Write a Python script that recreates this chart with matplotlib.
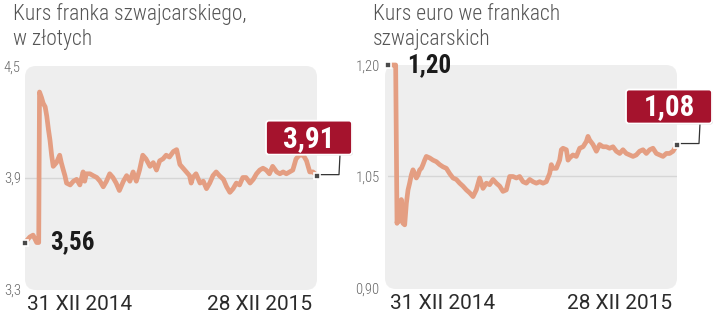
import matplotlib
matplotlib.use("Agg")
import matplotlib.pyplot as plt
from matplotlib.patches import FancyBboxPatch
from matplotlib import transforms as mtransforms

# --- dane: dni od 31 XII 2014 i kursy ---
dni_chf = [0, 6, 10, 14.5, 17, 18, 20.5, 22.5, 25, 27, 29, 31, 33, 35, 37, 39, 41, 43, 45, 47.5,
           49.5, 51.5, 56, 60, 64, 68, 72, 74, 76, 80.5, 84.5, 89, 93, 97, 101, 105, 109, 113,
           117, 122, 126, 130, 134, 138, 142, 146, 150, 155, 159, 163, 167, 171, 175, 179, 184,
           188, 192, 196, 200, 204, 206, 208, 212, 217, 221, 225, 229, 233, 237, 241, 246, 250,
           254, 258, 262, 266, 270, 274, 279, 283, 287, 291, 295, 299, 303, 307, 312, 316, 320,
           324, 328, 332, 336, 340, 345, 349, 353, 357, 362]
kurs_chf = [3.55, 3.58, 3.59, 3.55, 3.55, 4.36, 4.33, 4.30, 4.28, 4.23, 4.16, 4.10, 4.02, 3.96,
            3.97, 3.98, 4.00, 4.02, 3.98, 3.94, 3.91, 3.87, 3.86, 3.88, 3.89, 3.86, 3.93, 3.88,
            3.92, 3.92, 3.91, 3.90, 3.88, 3.85, 3.88, 3.92, 3.90, 3.87, 3.83, 3.88, 3.91, 3.88,
            3.93, 3.88, 3.94, 4.02, 4.00, 3.96, 3.98, 3.94, 3.99, 4.00, 4.02, 4.01, 4.04, 4.05,
            3.97, 3.95, 3.93, 3.91, 3.87, 3.90, 3.92, 3.87, 3.88, 3.84, 3.87, 3.91, 3.93, 3.91,
            3.89, 3.85, 3.82, 3.84, 3.87, 3.86, 3.90, 3.90, 3.87, 3.89, 3.92, 3.94, 3.95, 3.94,
            3.92, 3.96, 3.93, 3.92, 3.93, 3.92, 3.93, 3.94, 4.00, 4.02, 4.02, 3.99, 3.93, 3.93,
            3.91]

dni_eur = [0, 6.3, 9.6, 11.3, 12.5, 14.6, 16.7, 18.8, 20.9, 23.0, 25.1, 27.1, 29.2, 31.3, 33.4,
           35.5, 37.6, 39.7, 41.8, 43.8, 45.9, 48.0, 52.2, 56.4, 60.5, 64.7, 68.9, 73.1, 77.2,
           81.4, 85.6, 89.8, 93.9, 98.1, 102.3, 106.5, 110.6, 114.8, 119.0, 123.2, 127.3, 131.5,
           135.7, 139.9, 144.0, 148.2, 152.4, 156.6, 160.8, 164.9, 169.1, 173.3, 177.5, 181.6,
           185.8, 190.0, 194.2, 198.3, 202.5, 204.6, 206.7, 210.9, 215.0, 217.1, 219.2, 223.4,
           225.5, 227.6, 231.7, 235.9, 240.1, 244.3, 248.4, 250.5, 252.6, 256.8, 261.0, 265.1,
           269.3, 273.5, 277.6, 281.8, 286.0, 290.2, 294.3, 298.5, 302.7, 306.9, 311.0, 315.2,
           319.4, 323.6, 327.8, 331.9, 336.1, 340.3, 344.5, 348.6, 352.8, 357.0, 362]
kurs_eur = [1.200, 1.200, 1.200, 0.987, 0.996, 0.990, 1.019, 0.987, 0.985, 1.014, 1.032, 1.041,
            1.052, 1.059, 1.054, 1.048, 1.052, 1.059, 1.061, 1.066, 1.072, 1.077, 1.075, 1.072,
            1.070, 1.066, 1.063, 1.061, 1.054, 1.048, 1.046, 1.041, 1.037, 1.032, 1.028, 1.023,
            1.032, 1.048, 1.034, 1.041, 1.039, 1.046, 1.041, 1.037, 1.030, 1.032, 1.050, 1.050,
            1.048, 1.050, 1.043, 1.041, 1.046, 1.043, 1.041, 1.043, 1.041, 1.043, 1.054, 1.066,
            1.061, 1.061, 1.072, 1.086, 1.088, 1.086, 1.072, 1.075, 1.079, 1.077, 1.088, 1.090,
            1.097, 1.104, 1.099, 1.093, 1.084, 1.093, 1.090, 1.090, 1.088, 1.090, 1.084, 1.081,
            1.086, 1.081, 1.079, 1.077, 1.079, 1.084, 1.086, 1.081, 1.086, 1.088, 1.081, 1.079,
            1.077, 1.081, 1.081, 1.084, 1.093]

tytul_chf = ["Kurs franka szwajcarskiego,", "w złotych"]
tytul_eur = ["Kurs euro we frankach", "szwajcarskich"]
daty = ["31 XII 2014", "28 XII 2015"]

KOLOR_LINII = "#e49e82"
KOLOR_BOX = "#a5132d"
TLO = "#eeeeee"
FONT_C = "Roboto Condensed"

fig = plt.figure(figsize=(7.2, 3.14), dpi=100)
W, H = 720, 314
PIX = mtransforms.IdentityTransform()


def panel(rect, dni, kurs, ylim, yticks, yticklabels, tytul, tx, start_lbl, start_dx, end_lbl,
          pad_y, box_left):
    ax = fig.add_axes([rect[0] / W, rect[1] / H, rect[2] / W, rect[3] / H])
    ax.set_xlim(0, 362)
    ax.set_ylim(*ylim)
    ax.patch.set_visible(False)
    for s in ax.spines.values():
        s.set_visible(False)

    # szare tło z zaokrąglonymi rogami (w pikselach)
    bg = FancyBboxPatch((box_left, rect[1] - 1), rect[0] + rect[2] - box_left, rect[3] + 1,
                        boxstyle="round,pad=0,rounding_size=11", fc=TLO, ec="none",
                        transform=PIX, zorder=0, clip_on=False)
    ax.add_artist(bg)

    ax.axhline(yticks[1], color="#d6d6d6", lw=1, zorder=1)
    ax.plot(dni, kurs, color=KOLOR_LINII, lw=3.4, solid_joinstyle="round",
            solid_capstyle="round", zorder=2, clip_on=False)
    ax.plot([dni[0], dni[-1]], [kurs[0], kurs[-1]], ls="none", marker="s", ms=4.5,
            mfc="#4a4a4a", mec="white", mew=1.2, zorder=4, clip_on=False)

    ax.set_yticks(yticks)
    ax.set_yticklabels(yticklabels, fontfamily=FONT_C, fontweight="light", fontsize=10.5,
                       color="#666666")
    ax.tick_params(axis="y", length=0, pad=pad_y)
    ax.set_xticks([])

    # daty pod osią
    ax.annotate(daty[0], xy=(dni[0], ylim[0]), xytext=(2, -21), textcoords="offset pixels",
                ha="left", va="baseline", fontfamily="Roboto", fontsize=15, color="#2b2b2b",
                annotation_clip=False)
    ax.annotate(daty[1], xy=(dni[-1], ylim[0]), xytext=(-5, -21), textcoords="offset pixels",
                ha="right", va="baseline", fontfamily="Roboto", fontsize=15, color="#2b2b2b",
                annotation_clip=False)

    for i, t in enumerate(tytul):
        fig.text(tx / W, 1 - (20 + 25 * i) / H, t, fontfamily=FONT_C, fontweight="light",
                 fontsize=15.5, color="#555555", va="baseline", ha="left")

    # etykieta wartości początkowej
    ax.annotate(start_lbl, xy=(dni[0], kurs[0]), xytext=(start_dx, 0),
                textcoords="offset pixels", ha="left", va="center", fontfamily=FONT_C,
                fontweight="bold", fontsize=18, color="#1b1b1b", zorder=5)

    # czerwona etykieta wartości końcowej z odnośnikiem
    off = PIX + mtransforms.ScaledTranslation(dni[-1], kurs[-1], ax.transData)
    cien = FancyBboxPatch((-50, 20), 86, 34, boxstyle="round,pad=0,rounding_size=3",
                          fc="#bdbdbd", ec="none", alpha=0.6, transform=off, zorder=5,
                          clip_on=False)
    box = FancyBboxPatch((-51, 21), 86, 34, boxstyle="round,pad=0,rounding_size=3",
                         fc=KOLOR_BOX, ec="white", lw=1.3, transform=off, zorder=6,
                         clip_on=False)
    ax.add_artist(cien)
    ax.add_artist(box)
    ax.plot([23, 22, 3], [21, 1, 1], color="#333333", lw=0.9, transform=off, zorder=3,
            clip_on=False)
    ax.text(-8, 37, end_lbl, transform=off, ha="center", va="center", fontfamily=FONT_C,
            fontweight="bold", fontsize=21, color="white", zorder=7, clip_on=False)
    return ax


panel((25, 25, 292, 223), dni_chf, kurs_chf, (3.3, 4.5), [3.3, 3.9, 4.5], ["3,3", "3,9", "4,5"],
      tytul_chf, 13, "3,56", 25, "3,91", 3, 25)
panel((388, 26, 289, 223), dni_eur, kurs_eur, (0.90, 1.20), [0.90, 1.05, 1.20],
      ["0,90", "1,05", "1,20"], tytul_eur, 373, "1,20", 19, "1,08", 6, 385)

fig.savefig("out.png", dpi=100, facecolor="white")
